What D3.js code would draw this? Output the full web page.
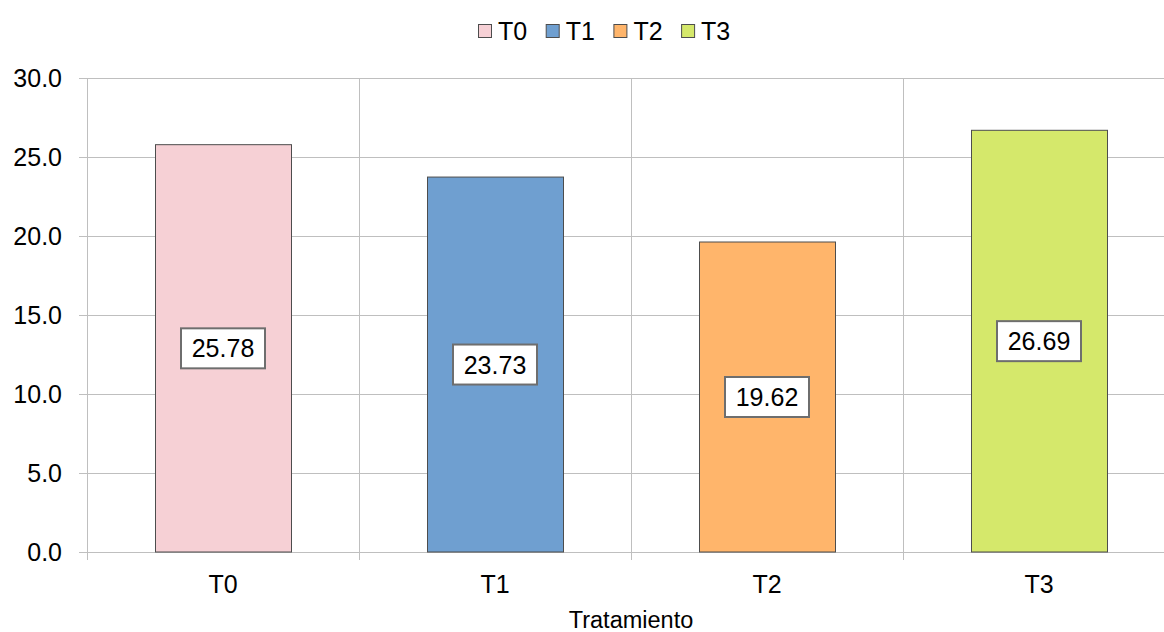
<!DOCTYPE html>
<html>
<head>
<meta charset="utf-8">
<script src="https://cdn.jsdelivr.net/npm/d3@7/dist/d3.min.js"></script>
<style>
  html, body { margin: 0; padding: 0; background: #fff; }
  svg { display: block; font-family: "Liberation Sans", Arial, sans-serif; }
</style>
</head>
<body>
<svg id="chart" width="1164" height="632"></svg>
<script>
// Treatment categories and measured means
const categories = ["T0", "T1", "T2", "T3"];
const values = [25.78, 23.73, 19.62, 26.69];
const colors = ["#F6D0D5", "#6F9FD0", "#FFB56B", "#D5E86B"];
const yTicks = [0, 5, 10, 15, 20, 25, 30];
const xTitle = "Tratamiento";

const svg = d3.select("#chart");
const margin = { left: 87, top: 78, right: -11, bottom: 80 };
const W = 1164, H = 632;
const plotLeft = margin.left, plotRight = W - margin.right;
const plotTop = margin.top, plotBottom = H - margin.bottom;
const FONT = "Liberation Sans, Arial, sans-serif";

const x = d3.scaleBand().domain(categories).range([plotLeft, plotRight]).paddingInner(0).paddingOuter(0);
const y = d3.scaleLinear().domain([0, 30]).range([plotBottom, plotTop]);

const grid = "#BFBFBF";

// horizontal gridlines
svg.append("g").selectAll("line").data(yTicks).join("line")
  .attr("x1", plotLeft - 8).attr("x2", plotRight)
  .attr("y1", d => Math.round(y(d)) + 0.5).attr("y2", d => Math.round(y(d)) + 0.5)
  .attr("stroke", grid).attr("stroke-width", 1);

// vertical gridlines at category boundaries
const bounds = categories.map(c => x(c)).concat([plotRight]);
svg.append("g").selectAll("line").data(bounds).join("line")
  .attr("x1", d => Math.round(d) + 0.5).attr("x2", d => Math.round(d) + 0.5)
  .attr("y1", plotTop).attr("y2", plotBottom + 8)
  .attr("stroke", grid).attr("stroke-width", 1);

// y axis labels
const yAxis = d3.axisLeft(y).tickValues(yTicks).tickFormat(d3.format(".1f")).tickSize(0).tickPadding(25);
const yg = svg.append("g").attr("transform", `translate(${plotLeft},0)`).call(yAxis);
yg.select(".domain").remove();
yg.selectAll("text").attr("font-size", 25).attr("fill", "#000").attr("font-family", FONT);

// x axis labels
const xAxis = d3.axisBottom(x).tickSize(0).tickPadding(23);
const xg = svg.append("g").attr("transform", `translate(0,${plotBottom})`).call(xAxis);
xg.select(".domain").remove();
xg.selectAll("text").attr("font-size", 25).attr("fill", "#000").attr("font-family", FONT);

// bars
const barW = x.bandwidth() / 2;
svg.append("g").selectAll("rect").data(values).join("rect")
  .attr("x", (d, i) => Math.round(x(categories[i]) + x.bandwidth() / 2 - barW / 2) + 0.5)
  .attr("width", barW)
  .attr("y", d => y(d))
  .attr("height", d => y(0) - y(d))
  .attr("fill", (d, i) => colors[i])
  .attr("stroke", "#4D4D4D").attr("stroke-width", 1);

// value labels in boxes at bar mid-height
const lbl = svg.append("g").selectAll("g").data(values).join("g")
  .attr("transform", (d, i) => `translate(${x(categories[i]) + x.bandwidth() / 2},${(y(d) + y(0)) / 2})`);
lbl.append("rect")
  .attr("x", -42).attr("y", -20).attr("width", 84).attr("height", 40)
  .attr("fill", "#fff").attr("stroke", "#6E6E6E").attr("stroke-width", 2);
lbl.append("text")
  .attr("text-anchor", "middle").attr("dy", "0.36em")
  .attr("font-size", 25).attr("fill", "#000")
  .text(d => d.toFixed(2));

// axis title
svg.append("text").attr("x", 631).attr("y", 628)
  .attr("text-anchor", "middle").attr("font-size", 23.5).attr("fill", "#000")
  .text(xTitle);

// legend
const leg = svg.append("g").selectAll("g").data(categories).join("g")
  .attr("transform", (d, i) => `translate(${478.5 + i * 67.7},24.5)`);
leg.append("rect").attr("width", 13).attr("height", 13)
  .attr("fill", (d, i) => colors[i]).attr("stroke", "#4D4D4D").attr("stroke-width", 1);
leg.append("text").attr("x", 19.5).attr("y", 6.5).attr("dy", "0.36em")
  .attr("font-size", 25).attr("fill", "#000").text(d => d);
</script>
</body>
</html>
